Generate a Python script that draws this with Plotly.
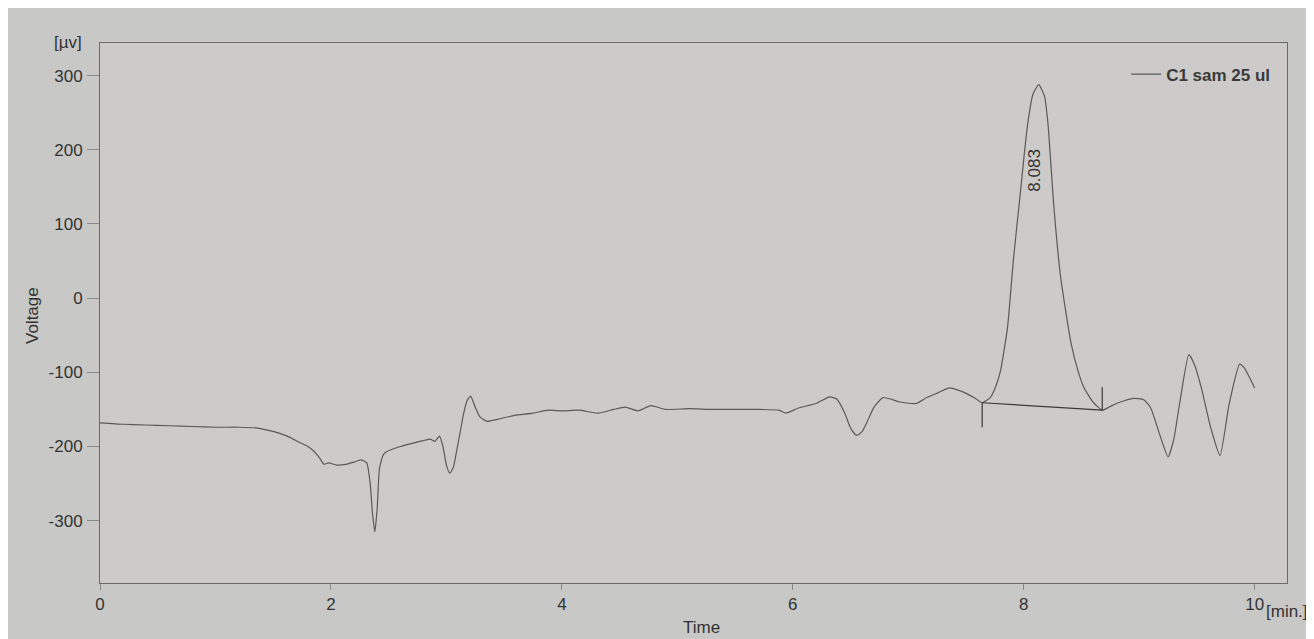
import plotly.graph_objects as go

# ---- data ----
time_min = [0.00, 0.20, 0.39, 0.60, 0.80, 1.00, 1.20, 1.35, 1.45, 1.55, 1.65, 1.72, 1.80, 1.85,
            1.90, 1.94, 1.98, 2.05, 2.13, 2.20, 2.26, 2.31, 2.34, 2.36, 2.38, 2.40, 2.42, 2.45,
            2.48, 2.60, 2.72, 2.80, 2.86, 2.90, 2.94, 2.97, 3.00, 3.03, 3.06, 3.09, 3.12, 3.15,
            3.18, 3.21, 3.25, 3.29, 3.35, 3.45, 3.59, 3.75, 3.88, 4.00, 4.15, 4.31, 4.45, 4.55,
            4.66, 4.77, 4.90, 5.10, 5.30, 5.47, 5.70, 5.88, 5.94, 6.05, 6.20, 6.32, 6.38, 6.45,
            6.50, 6.55, 6.60, 6.64, 6.70, 6.78, 6.93, 7.07, 7.16, 7.25, 7.36, 7.45, 7.51, 7.58,
            7.64, 7.71, 7.76, 7.80, 7.86, 7.91, 7.97, 8.03, 8.08, 8.13, 8.18, 8.21, 8.26, 8.32,
            8.41, 8.47, 8.52, 8.60, 8.68, 8.75, 8.82, 8.95, 9.04, 9.10, 9.18, 9.25, 9.30, 9.35,
            9.43, 9.48, 9.54, 9.62, 9.70, 9.78, 9.87, 9.91, 10.00]
voltage_uv = [-168, -170, -171, -172, -173, -174, -174, -175, -178, -182, -188, -194, -200, -206,
              -215, -224, -222, -225, -224, -221, -218, -222, -250, -290, -315, -285, -230, -212,
              -207, -200, -195, -192, -190, -193, -186, -200, -225, -236, -228, -205, -180, -155,
              -138, -132, -147, -160, -166, -163, -158, -155, -151, -152, -151, -155, -150, -147,
              -152, -145, -150, -149, -150, -150, -150, -151, -155, -148, -142, -133, -136, -155,
              -175, -185, -180, -168, -148, -134, -140, -142, -134, -128, -121, -125, -129, -135,
              -141, -134, -118, -97, -39, 51, 141, 230, 275, 288, 272, 235, 125, 28,
              -61, -98, -120, -140, -151, -146, -141, -135, -137, -148, -185, -214, -190, -142,
              -76, -90, -122, -175, -212, -142, -89, -94, -121]

series_name = "C1 sam 25 ul"

# integration baseline of the peak and its start/end markers
baseline_t = [7.64, 8.68]
baseline_v = [-141, -151]
start_mark_t = [7.64, 7.64]
start_mark_v = [-141, -174]
end_mark_t = [8.68, 8.68]
end_mark_v = [-120, -151]

peak_label = "8.083"
peak_label_t = 8.09
peak_label_v = 172

x_ticks = [0, 2, 4, 6, 8, 10]
y_ticks = [300, 200, 100, 0, -100, -200, -300]

# ---- figure ----
line_col = "#5a5a5a"
text_col = "#333333"
font_family = "Liberation Sans, Arial, sans-serif"
FS = 17

fig = go.Figure()
fig.add_trace(go.Scatter(x=time_min, y=voltage_uv, mode="lines", name=series_name,
                         line=dict(color=line_col, width=1.2, shape="spline", smoothing=0.5)))
for tx, vy in [(baseline_t, baseline_v), (start_mark_t, start_mark_v), (end_mark_t, end_mark_v)]:
    fig.add_trace(go.Scatter(x=tx, y=vy, mode="lines", showlegend=False, hoverinfo="skip",
                             line=dict(color="#3a3a3a", width=1.2)))

fig.add_annotation(x=peak_label_t, y=peak_label_v, text=peak_label, textangle=-90,
                   showarrow=False, font=dict(size=FS, color=text_col, family=font_family))

# screen-pixel positions of the plot area (page has an 8 px body offset)
PL, PR, PT, PB = 100, 1287, 43, 583


def px(sx):
    return (sx - PL) / (PR - PL)


def py(sy):
    return 1 - (sy - PT) / (PB - PT)


for txt, sx, sy, ang in [("[µv]", 68, 42, 0), ("[min.]", 1287, 611, 0),
                         ("Time", 702, 627, 0), ("Voltage", 32, 316, -90)]:
    fig.add_annotation(x=px(sx), y=py(sy), xref="paper", yref="paper", text=txt,
                       showarrow=False, textangle=ang, xanchor="center", yanchor="middle",
                       font=dict(size=FS, color=text_col, family=font_family))

W, H = 1306, 631
fig.update_layout(
    width=W, height=H,
    margin=dict(l=PL - 8, r=1314 - PR, t=PT - 8, b=639 - PB, autoexpand=False),
    paper_bgcolor="#c8c8c6",
    plot_bgcolor="#cccbc9",
    font=dict(family=font_family, color=text_col, size=FS),
    showlegend=True,
    legend=dict(x=0.99, y=0.975, xanchor="right", yanchor="top", bgcolor="rgba(0,0,0,0)",
                font=dict(size=FS, color="#3a3a3a", family=font_family, weight="bold")),
)
fig.update_xaxes(range=[0, 10.28], tickvals=x_ticks, ticktext=[str(v) for v in x_ticks],
                 showgrid=False, zeroline=False, showline=True, linecolor="#6a6a6a", linewidth=1,
                 mirror=True, ticks="outside", ticklen=6, tickcolor="#8a8a8a", ticklabelstandoff=0,
                 tickfont=dict(size=FS, color=text_col))
fig.update_yaxes(range=[-384, 344], tickvals=y_ticks, ticktext=[str(v) for v in y_ticks],
                 showgrid=False, zeroline=False, showline=True, linecolor="#6a6a6a", linewidth=1,
                 mirror=True, ticks="outside", ticklen=12, tickcolor="#8a8a8a", ticklabelstandoff=1,
                 tickfont=dict(size=FS, color=text_col))

fig.write_html("out.html")
